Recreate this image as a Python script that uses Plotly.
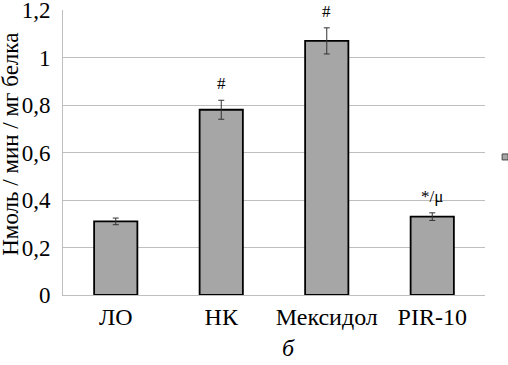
import plotly.graph_objects as go

categories = ["ЛО", "НК", "Мексидол", "PIR-10"]
values = [0.31, 0.78, 1.07, 0.33]
errors = [0.014, 0.04, 0.055, 0.016]
marks = ["", "#", "#", "*/μ"]
y_ticks = [0, 0.2, 0.4, 0.6, 0.8, 1.0, 1.2]
y_tick_labels = ["0", "0,2", "0,4", "0,6", "0,8", "1", "1,2"]
y_title = "Нмоль / мин / мг белка"
x_caption = "б"

FONT = "Times New Roman, Liberation Serif, serif"

fig = go.Figure()
fig.add_trace(go.Bar(
    x=categories, y=values,
    marker=dict(color="#a6a6a6", line=dict(color="#000000", width=1.8)),
    error_y=dict(type="data", array=errors, visible=True, color="#333333",
                 thickness=1, width=3),
    width=0.41,
    showlegend=False,
))
# legend marker (as in the original: an unlabeled grey square)
fig.add_trace(go.Scatter(
    x=[None], y=[None], mode="markers", name="",
    marker=dict(symbol="square", size=6, color="#a6a6a6",
                line=dict(color="#444444", width=1)),
    showlegend=True,
))

for c, v, e, m in zip(categories, values, errors, marks):
    if m:
        fig.add_annotation(x=c, y=v + e, text=m, showarrow=False,
                           yanchor="bottom", yshift=5,
                           font=dict(family=FONT, size=17, color="#000"))

fig.add_annotation(xref="paper", yref="paper", x=0.535, y=-0.135,
                   text="<i>" + x_caption + "</i>", showarrow=False, yanchor="top",
                   font=dict(family=FONT, size=24, color="#000"))

fig.add_annotation(xref="paper", yref="paper", x=-0.125, y=0.528,
                   text=y_title, textangle=-90, showarrow=False,
                   xanchor="center", yanchor="middle",
                   font=dict(family=FONT, size=23, color="#000"))

fig.update_layout(
    width=508, height=365,
    margin=dict(l=63, r=23, t=10, b=70, autoexpand=False),
    paper_bgcolor="white", plot_bgcolor="white",
    font=dict(family=FONT, color="#000"),
    bargap=0.59,
    legend=dict(xref="container", yref="container", x=0.955, y=0.57,
                xanchor="left", yanchor="middle",
                bgcolor="rgba(0,0,0,0)", font=dict(size=1),
                itemwidth=30, tracegroupgap=0),
    xaxis=dict(showline=True, linecolor="#bfbfbf", linewidth=1,
               tickfont=dict(family=FONT, size=24, color="#000"),
               ticks="", showgrid=False, automargin=False),
    yaxis=dict(range=[0, 1.2001], tickvals=y_ticks, ticktext=y_tick_labels,
               tickfont=dict(family=FONT, size=23, color="#000"),
               showgrid=True, gridcolor="#bfbfbf", gridwidth=1,
               showline=True, linecolor="#bfbfbf", linewidth=1,
               zeroline=False, ticks="", ticklabelstandoff=7,
               ticklabeloverflow="allow",
               automargin=False),
)

fig.write_html("out.html", config={"displayModeBar": False},
               post_script="document.body.style.margin='0';document.body.style.overflow='hidden';")
